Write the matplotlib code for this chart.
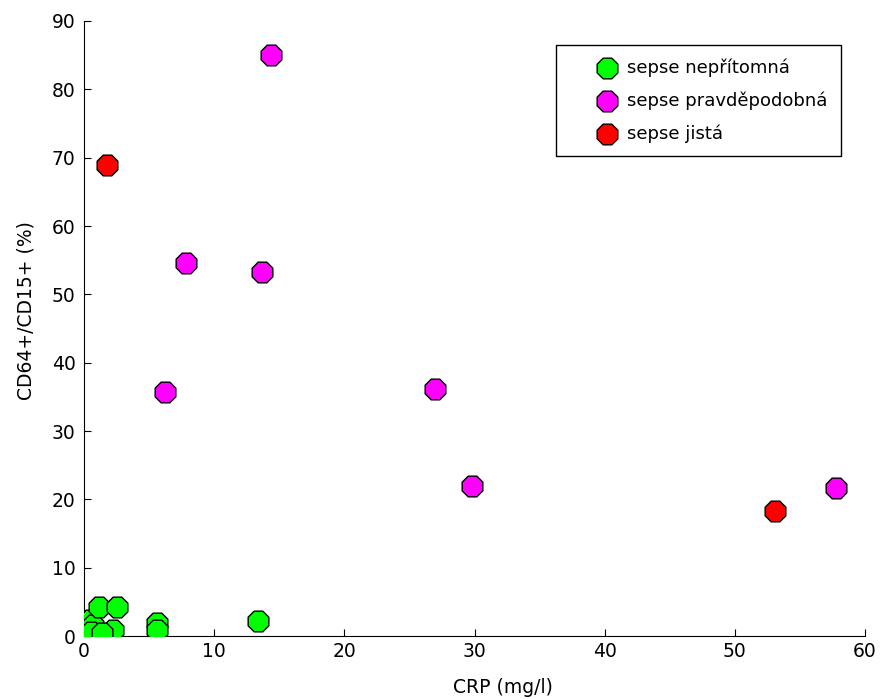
import numpy as np
import matplotlib.pyplot as plt

# sepse nepřítomná
crp_none = [0.2, 0.3, 0.46, 0.7, 0.5, 1.15, 2.5, 2.1, 2.2, 1.4, 5.6, 5.6, 13.4]
cd_none = [0.1, 1.3, 2.3, 1.6, 0.6, 4.2, 4.2, 0.1, 0.9, 0.4, 1.9, 0.9, 2.2]

# sepse pravděpodobná
crp_prob = [14.4, 7.8, 13.7, 6.2, 27.0, 29.8, 57.8]
cd_prob = [85.0, 54.6, 53.3, 35.7, 36.1, 22.0, 21.7]

# sepse jistá
crp_sure = [1.8, 53.1]
cd_sure = [68.9, 18.3]

fig = plt.figure(figsize=(8.8, 6.99), dpi=100)
ax = fig.add_axes([0.0955, 0.090, 0.8875, 0.880])

ms = 260
ax.scatter(crp_none, cd_none, s=ms, marker="8", color="#00ff00", edgecolor="k",
           linewidth=1, label="sepse nepřítomná", zorder=3)
ax.scatter(crp_prob, cd_prob, s=ms, marker="8", color="#ff00ff", edgecolor="k",
           linewidth=1, label="sepse pravděpodobná", zorder=3)
ax.scatter(crp_sure, cd_sure, s=ms, marker="8", color="#ff0000", edgecolor="k",
           linewidth=1, label="sepse jistá", zorder=3)

ax.set_xlim(0, 60)
ax.set_ylim(0, 90)
ax.set_xticks(np.arange(0, 61, 10))
ax.set_yticks(np.arange(0, 91, 10))
ax.tick_params(direction="in", length=5, labelsize=13.5)
ax.tick_params(axis="y", pad=6)
ax.tick_params(axis="x", pad=4)
ax.spines["top"].set_visible(False)
ax.spines["right"].set_visible(False)
for sp in ["left", "bottom"]:
    ax.spines[sp].set_clip_on(False)

ax.set_xlabel("CRP (mg/l)", fontsize=13.5)
ax.set_ylabel("CD64+/CD15+ (%)", fontsize=13.5)
ax.xaxis.set_label_coords(0.537, -0.068)
ax.yaxis.set_label_coords(-0.062, 0.53)

leg = ax.legend(loc="upper right", bbox_to_anchor=(0.969, 0.961), fancybox=False,
                edgecolor="k", fontsize=13, markerscale=1, borderpad=0.75,
                borderaxespad=0, labelspacing=0.8, handlelength=4.2,
                handletextpad=-1.0, framealpha=1)
leg.get_frame().set_linewidth(1)

fig.savefig("out.png", dpi=100)
